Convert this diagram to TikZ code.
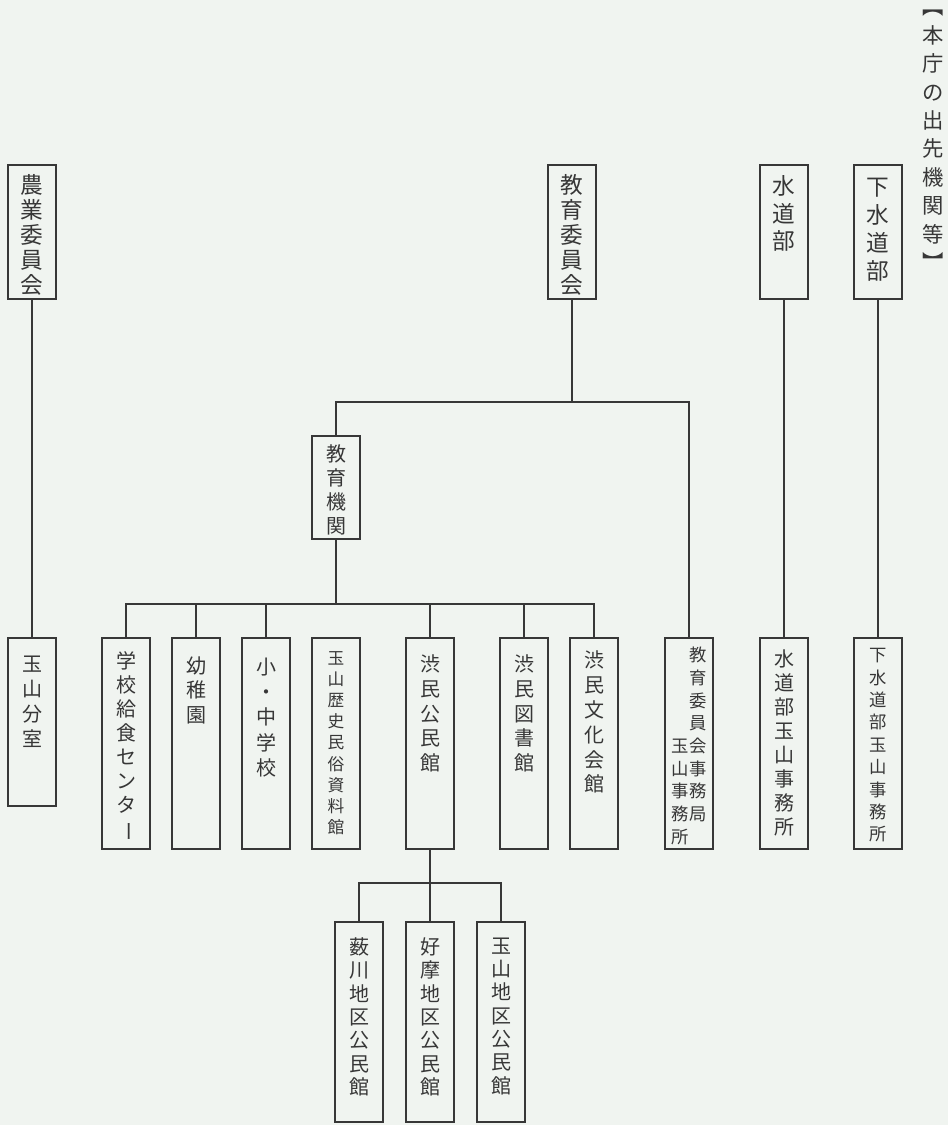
\documentclass[tikz,border=0pt]{standalone}
\usepackage{fontspec}
\setmainfont{Noto Sans CJK JP}
\definecolor{paper}{RGB}{240,244,240}
\definecolor{ink}{RGB}{55,55,55}
% vertical label: [offset]{box height}{font size}{line skip}{text}
\newcommand{\tate}[5][8pt]{\parbox[c][#2][t]{36pt}{\centering\fontsize{#3}{#4}\selectfont\vspace*{#1}#5}}
% glyph turned for vertical setting
\newcommand{\turn}[1]{\rotatebox[origin=c]{-90}{#1}}
\begin{document}
\begin{tikzpicture}[x=0.75pt,y=-0.75pt,
  box/.style={draw=ink,line width=1.2pt,inner sep=0pt,anchor=north,text=ink},
  link/.style={draw=ink,line width=1.2pt}]
  \fill[paper] (0,0) rectangle (948,1125);
  \useasboundingbox (0,0) rectangle (948,1125);

  % title
  \node[anchor=north,inner sep=0pt,text=ink,align=center,
    font=\fontsize{16}{21.3}\selectfont] (title) at (933,10)
    {︻\\本\\庁\\の\\出\\先\\機\\関\\等\\︼};

  % top row
  \node[box] (nogyo) at (32,164) {\tate[7pt]{100.5pt}{17}{18.75}{農\\業\\委\\員\\会}};
  \node[box] (kyoi)  at (572,164) {\tate[7pt]{100.5pt}{17}{18.75}{教\\育\\委\\員\\会}};
  \node[box] (suido) at (784,164) {\tate{100.5pt}{17}{20.75}{水\\道\\部}};
  \node[box] (gesui) at (878,164) {\tate[10pt]{100.5pt}{17}{21}{下\\水\\道\\部}};

  \node[box] (kikan) at (336,435) {\tate[7pt]{77.25pt}{15}{18}{教\\育\\機\\関}};

  % lower row
  \node[box] (bunshitsu) at (32,637) {\tate[13.5pt]{126pt}{15}{18.75}{玉\\山\\分\\室}};
  \node[box] (kyushoku) at (126,637) {\tate[10pt]{158.25pt}{15}{18}{学\\校\\給\\食\\セ\\ン\\タ\\\turn{ー}}};
  \node[box] (yochien) at (196,637) {\tate[14pt]{158.25pt}{15}{18.5}{幼\\稚\\園}};
  \node[box] (shochu) at (266,637) {\tate[15pt]{158.25pt}{15}{19}{小\\・\\中\\学\\校}};
  \node[box] (shiryo) at (336,637) {\tate[10pt]{158.25pt}{12.5}{15.9}{玉\\山\\歴\\史\\民\\俗\\資\\料\\館}};
  \node[box] (kominkan) at (430,637) {\tate[13pt]{158.25pt}{15}{18.5}{渋\\民\\公\\民\\館}};
  \node[box] (tosho) at (524,637) {\tate[13pt]{158.25pt}{15}{18.5}{渋\\民\\図\\書\\館}};
  \node[box] (bunka) at (594,637) {\tate[10pt]{158.25pt}{15}{18.6}{渋\\民\\文\\化\\会\\館}};
  \node[box] (jimukyoku) at (689,637) {\tate[6pt]{158.25pt}{13}{17}{%
    \begin{tabular}{@{}c@{\hspace{0.5pt}}c@{}}
      & 教\\ & 育\\ & 委\\ & 員\\ 玉 & 会\\ 山 & 事\\ 事 & 務\\ 務 & 局\\ 所 &
    \end{tabular}}};
  \node[box] (suidotama) at (784,637) {\tate[9pt]{158.25pt}{15}{18}{水\\道\\部\\玉\\山\\事\\務\\所}};
  \node[box] (gesuitama) at (878,637) {\tate[8pt]{158.25pt}{13}{16.8}{下\\水\\道\\部\\玉\\山\\事\\務\\所}};

  % district halls
  \node[box] (yabukawa) at (359,921) {\tate[12pt]{150pt}{15}{17.5}{薮\\川\\地\\区\\公\\民\\館}};
  \node[box] (koma) at (430,921) {\tate[12pt]{150pt}{15}{17.5}{好\\摩\\地\\区\\公\\民\\館}};
  \node[box] (tamayama) at (501,921) {\tate[12pt]{150pt}{15}{17.5}{玉\\山\\地\\区\\公\\民\\館}};

  % branch points
  \coordinate (b1) at (572,402);
  \coordinate (b2) at (336,604);
  \coordinate (b3) at (430,883);

  \draw[link] (nogyo.south) -- (bunshitsu.north);
  \draw[link] (suido.south) -- (suidotama.north);
  \draw[link] (gesui.south) -- (gesuitama.north);

  \draw[link] (kyoi.south) -- (b1);
  \draw[link] (kikan.north) |- (b1) -| (jimukyoku.north);

  \draw[link] (kikan.south) -- (b2);
  \draw[link] (kyushoku.north) |- (b2) -| (bunka.north);
  \foreach \n in {yochien,shochu,kominkan,tosho}
    \draw[link] (\n.north) -- (\n.north |- b2);

  \draw[link] (kominkan.south) -- (b3);
  \draw[link] (yabukawa.north) |- (b3) -| (tamayama.north);
  \draw[link] (koma.north) -- (koma.north |- b3);
\end{tikzpicture}
\end{document}
